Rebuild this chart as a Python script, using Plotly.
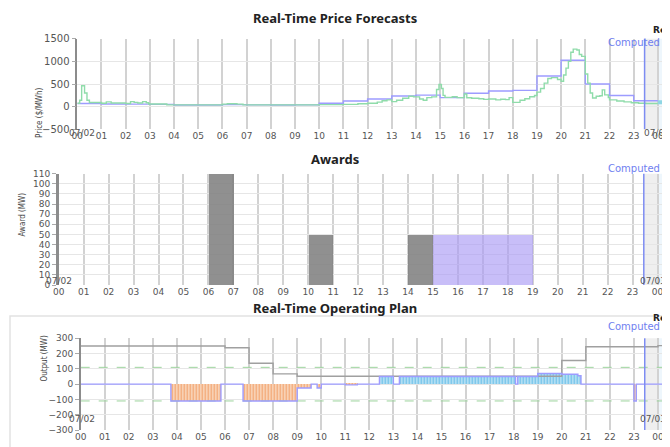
import plotly.graph_objects as go

# the page has an 8px body margin, so the figure is 8px smaller than the window
OFF = 8
W, H = 670 - OFF, 447 - OFF

# ---- data -------------------------------------------------------------
hour_ticks = list(range(25))
hour_labels = [f"{h % 24:02d}" for h in hour_ticks]
computed_at = 23.45  # 23:27

# hourly forecast price ($/MWh), hour 0..24
hourly_price = [70, 60, 55, 50, 35, 35, 45, 40, 35, 40, 75, 125, 170, 235, 255,
                200, 295, 345, 360, 675, 1025, 500, 245, 130, 130]

# real-time price change points (hour, $/MWh)
rt_times = [0.00, 0.10, 0.18, 0.30, 0.40, 0.50, 1.00, 1.20, 1.40, 2.00, 2.20, 2.35,
            2.50, 2.70, 2.85, 2.95, 3.70, 6.00, 6.20, 6.60, 6.85, 10.0, 11.0, 11.6,
            12.0, 12.4, 12.6, 12.8, 13.0, 13.2, 13.45, 13.7, 13.9, 14.15, 14.3, 14.45,
            14.65, 14.85, 14.95, 15.05, 15.12, 15.2, 15.5, 15.7, 16.0, 16.1, 16.3, 16.6,
            16.8, 17.0, 17.3, 17.5, 17.7, 17.85, 18.0, 18.3, 18.5, 18.7, 18.9, 19.0,
            19.15, 19.3, 19.45, 19.6, 19.85, 20.0, 20.1, 20.2, 20.3, 20.4, 20.5, 20.65,
            20.75, 20.85, 21.0, 21.1, 21.2, 21.3, 21.45, 21.6, 21.7, 21.8, 21.95, 22.0,
            22.3, 22.6, 22.9, 23.2, 23.5, 24.0]
rt_price = [75, 140, 460, 300, 140, 90, 75, 105, 80, 70, 110, 95,
            80, 110, 85, 60, 40, 55, 65, 55, 40, 45, 50, 65,
            75, 100, 130, 150, 110, 140, 185, 230, 215, 170, 140, 200,
            215, 380, 490, 400, 250, 205, 220, 200, 280, 195, 185, 175,
            160, 170, 150, 165, 155, 200, 95, 140, 175, 220, 245, 320,
            400, 520, 620, 640, 600, 560, 700, 850, 1000, 1200, 1270, 1250,
            1150, 1110, 720, 520, 300, 190, 230, 240, 370, 260, 200, 150,
            125, 105, 85, 75, 70, 70]

# current price marker
now_times = [24.0, 24.2]
now_price = [95, 95]

# awards
award_start = [6, 10, 14, 15]
award_end = [7, 11, 15, 19]
award_mw = [110, 50, 50, 50]
award_kind = ["cleared", "cleared", "cleared", "pending"]

# operating plan change points (hour, MW)
op_times = [0, 3.75, 5.83, 6.75, 9.0, 9.58, 9.83, 10.0, 11.0, 11.5, 12.42, 13.0,
            13.25, 18.08, 18.17, 19.0, 20.0, 20.67, 20.8, 23.0, 23.1, 24.5]
op_mw = [0, -110, 0, -110, -25, 0, -25, 0, -5, 0, 50, 0,
         50, 0, 50, 70, 65, 55, 0, -110, 0, 0]

sched_times = [0, 6, 7, 8, 9, 20, 21, 24, 24.5]
sched_mw = [250, 238, 137, 67, 52, 155, 245, 252, 252]

limit_mw = [110, -110]

# ---- layout helpers (window pixels -> paper) ---------------------------
def px(x):
    return (x - OFF) / W


def py(y):
    return 1 - (y - OFF) / H


TICK_FONT = dict(family="DejaVu Sans", size=9, color="#555")
TITLE_FONT = dict(family="Noto Sans", size=13, color="#222", weight="bold")
YT_FONT = dict(family="Liberation Sans Narrow, DejaVu Sans Condensed, Liberation Sans",
               size=8, color="#444")
BLUE = "#7d8cf2"

fig = go.Figure()

# ---- panel 1: prices ---------------------------------------------------
fig.add_trace(go.Scatter(x=hour_ticks, y=hourly_price, mode="lines", line_shape="hv",
                         line=dict(color="#9d9cff", width=1.4), xaxis="x", yaxis="y"))
fig.add_trace(go.Scatter(x=rt_times, y=rt_price, mode="lines", line_shape="hv",
                         line=dict(color="#8fdcaa", width=1.4), xaxis="x", yaxis="y"))
fig.add_trace(go.Scatter(x=now_times, y=now_price, mode="lines",
                         line=dict(color="#8fd6e4", width=4), xaxis="x", yaxis="y"))

# ---- panel 2: awards ---------------------------------------------------
award_colors = {"cleared": "rgba(125,125,125,0.85)", "pending": "rgba(170,155,245,0.65)"}
for kind in ["cleared", "pending"]:
    idx = [i for i, k in enumerate(award_kind) if k == kind]
    fig.add_trace(go.Bar(
        x=[(award_start[i] + award_end[i]) / 2 for i in idx],
        y=[award_mw[i] for i in idx],
        width=[award_end[i] - award_start[i] for i in idx],
        marker=dict(color=award_colors[kind], line=dict(width=0)),
        xaxis="x2", yaxis="y2"))

# ---- panel 3: operating plan ------------------------------------------
seg_x = [(op_times[i] + op_times[i + 1]) / 2 for i in range(len(op_times) - 1)]
seg_w = [op_times[i + 1] - op_times[i] for i in range(len(op_times) - 1)]
seg_v = op_mw[:-1]
for sign, bg, fg in [(-1, "#f9d6bc", "#f2a36e"), (1, "#b8e2f5", "#6cbfe8")]:
    idx = [i for i, v in enumerate(seg_v) if v * sign > 0]
    fig.add_trace(go.Bar(
        x=[seg_x[i] for i in idx], y=[seg_v[i] for i in idx], width=[seg_w[i] for i in idx],
        marker=dict(color=bg, line=dict(width=0),
                    pattern=dict(shape="|", fgcolor=fg, bgcolor=bg, size=3, solidity=0.4,
                                 fillmode="replace")),
        xaxis="x3", yaxis="y3"))
for lim in limit_mw:
    fig.add_trace(go.Scatter(x=[0, 24.5], y=[lim, lim], mode="lines",
                             line=dict(color="#9dd49d", width=1, dash="dash"),
                             xaxis="x3", yaxis="y3"))
fig.add_trace(go.Scatter(x=sched_times, y=sched_mw, mode="lines", line_shape="hv",
                         line=dict(color="#a0a0a0", width=1.4), xaxis="x3", yaxis="y3"))
fig.add_trace(go.Scatter(x=op_times, y=op_mw, mode="lines", line_shape="hv",
                         line=dict(color="#9d9cff", width=1.4), xaxis="x3", yaxis="y3"))

# ---- axes --------------------------------------------------------------
panels = [
    # xaxis, yaxis, left px, top px, bottom px, yrange, ydtick, axis line width
    ("xaxis", "yaxis", 77.3, 38.7, 129.3, [-500, 1500], 500, 1.5),
    ("xaxis2", "yaxis2", 58.7, 173.7, 285.0, [0, 110], 10, 2.5),
    ("xaxis3", "yaxis3", 80.7, 338.3, 430.0, [-300, 300], 100, 1.5),
]
layout = {}
shapes = []
for i, (xa, ya, left, top, bottom, yr, dt, lw) in enumerate(panels):
    xref = "x" if i == 0 else f"x{i + 1}"
    yref = "y" if i == 0 else f"y{i + 1}"
    layout[xa] = dict(domain=[px(left), 1], range=[0, 24.5], anchor=yref,
                      tickvals=hour_ticks, ticktext=hour_labels, tickfont=TICK_FONT,
                      showgrid=True, gridcolor="#d2d2d2", gridwidth=1.5, automargin=False,
                      zeroline=False, showline=False, ticks="", fixedrange=True)
    layout[ya] = dict(domain=[py(bottom), py(top)], range=yr, dtick=dt, anchor=xref,
                      tickfont=dict(TICK_FONT, size=10 if i == 0 else 9), automargin=False,
                      showgrid=True, gridcolor="#e6e6e6", gridwidth=1,
                      zeroline=False, showline=True, linecolor="#8c8c8c", linewidth=lw,
                      ticks="outside", ticklen=4, tickcolor="#aaa")
    # computed marker and shading
    shapes.append(dict(type="rect", xref=xref, yref=f"{yref} domain", x0=computed_at, x1=24,
                       y0=0, y1=1, fillcolor="#efefef", line_width=0, layer="below"))
    shapes.append(dict(type="rect", xref=xref, yref=f"{yref} domain", x0=24, x1=24.5,
                       y0=0, y1=1, fillcolor="#eef6fc", line_width=0, layer="below"))
    shapes.append(dict(type="line", xref=xref, yref=f"{yref} domain", x0=computed_at,
                       x1=computed_at, y0=0, y1=1, line=dict(color=BLUE, width=1.5)))

# panel 3 frame
shapes.append(dict(type="rect", xref="paper", yref="paper", x0=px(10), x1=px(675),
                   y0=py(452), y1=py(316), line=dict(color="#e2e2e2", width=1.5),
                   layer="below"))

annotations = []
# first title sits right at the top edge of the figure
annotations.append(dict(text="Real-Time Price Forecasts", x=px(335), y=1, xref="paper",
                        yref="paper", showarrow=False, font=TITLE_FONT, yanchor="top",
                        borderpad=0))
for text, y in [("Awards", 159), ("Real-Time Operating Plan", 308)]:
    annotations.append(dict(text=text, x=px(335), y=py(y), xref="paper", yref="paper",
                            showarrow=False, font=TITLE_FONT, yanchor="middle"))
for text, x, y in [("Price ($/MWh)", 33, 85), ("Award (MW)", 15, 215),
                   ("Output (MW)", 37, 384)]:
    annotations.append(dict(text=text, x=px(x), y=py(y), xref="paper", yref="paper",
                            showarrow=False, font=YT_FONT, textangle=-90))
# day labels
for (l, r, y) in [(82, 642, 126), (59, 638, 281), (82, 638, 426)]:
    annotations.append(dict(text="07/02", x=px(l), y=py(y), xref="paper", yref="paper",
                            showarrow=False, font=TICK_FONT, xanchor="center"))
    annotations.append(dict(text="07/03", x=px(r), y=py(y), xref="paper", yref="paper",
                            showarrow=False, font=TICK_FONT, xanchor="left"))
for y in [35, 169, 334]:
    annotations.append(dict(text="Computed 23:27", x=px(606), y=py(y), xref="paper",
                            yref="paper", showarrow=False, xanchor="left",
                            font=dict(family="DejaVu Sans", size=10, color="#6f80f0")))
for y in [23, 325]:
    annotations.append(dict(text="<b>Real-Time</b>", x=px(651), y=py(y), xref="paper",
                            yref="paper", showarrow=False, xanchor="left",
                            font=dict(family="DejaVu Sans", size=9, color="#222")))

fig.update_layout(
    width=W, height=H, margin=dict(l=0, r=0, t=0, b=0),
    paper_bgcolor="white", plot_bgcolor="white",
    showlegend=False, barmode="overlay", bargap=0,
    shapes=shapes, annotations=annotations, **layout)

fig.write_html("out.html")
